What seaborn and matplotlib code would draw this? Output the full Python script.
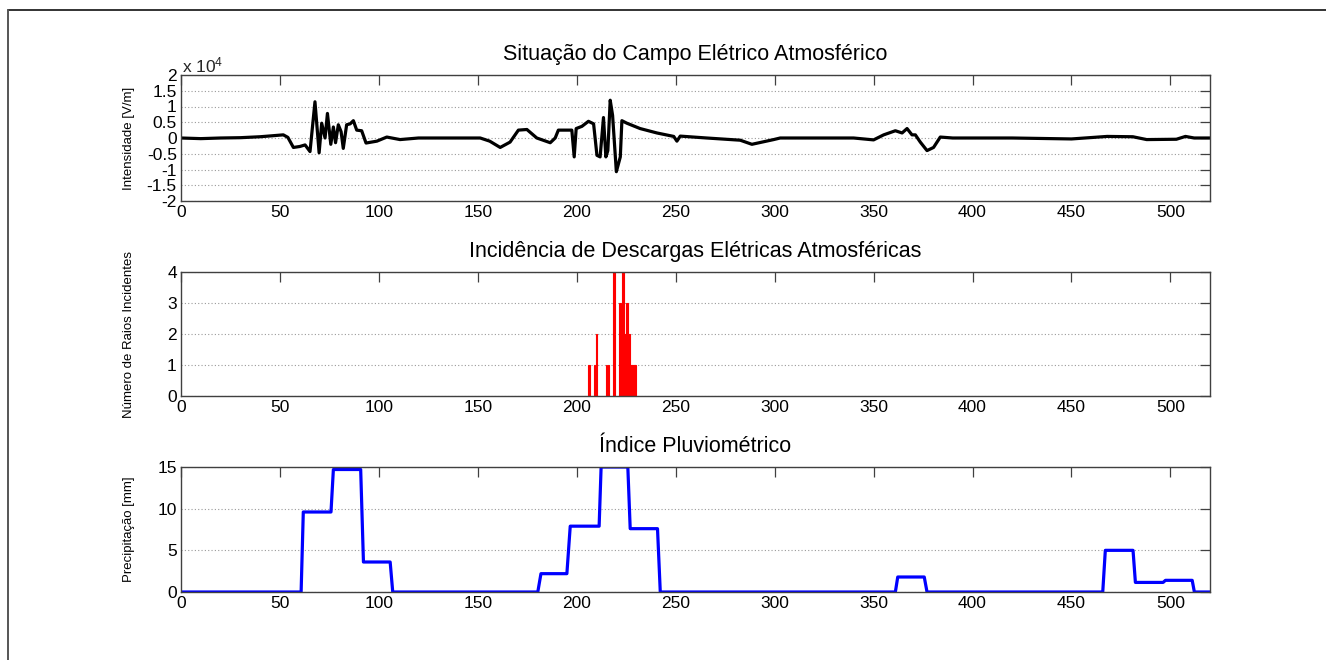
import matplotlib
matplotlib.use("Agg")
import matplotlib.pyplot as plt
from matplotlib.lines import Line2D
import seaborn as sns
import pandas as pd

# ---------------- data ----------------
# Electric field (units of 10^4 V/m), knots
field_x = [0, 10, 20, 30, 40, 46, 51.7, 54, 56.8, 60, 62.7, 65.2, 67.7, 69.8, 71.1,
           72.8, 74, 75.7, 77, 78.1, 79.5, 80.9, 82, 83.7, 85.5, 87.1, 88.8, 91.3,
           93.5, 99, 104, 110.7, 120, 130, 140, 151.2, 156, 161.3, 166.3, 170.5,
           174.8, 179.8, 186.6, 189.1, 190.7, 197.5, 198.7, 199.7, 202.6, 205.9,
           208.5, 210.2, 211.8, 213.5, 214.7, 215.7, 216.9, 218.1, 220, 222, 222.8,
           225.3, 232, 240.5, 249, 250.6, 252.3, 265.7, 282.6, 288.5, 299.5, 302.8,
           339.9, 350, 355.1, 361, 364.4, 366.9, 369.4, 371.1, 373.6, 377, 380.3,
           383.7, 390, 420, 450, 468, 481, 488, 503, 507.6, 512, 520]
field_y = [0, -0.02, 0, 0.01, 0.04, 0.07, 0.1, 0.02, -0.3, -0.27, -0.22, -0.43, 1.15,
           -0.47, 0.47, 0.0, 0.78, -0.2, 0.35, -0.15, 0.42, 0.2, -0.33, 0.42, 0.45,
           0.55, 0.25, 0.23, -0.16, -0.1, 0.03, -0.05, 0, 0, 0, 0, -0.1, -0.3, -0.13,
           0.25, 0.27, 0.0, -0.15, 0, 0.25, 0.25, -0.6, 0.3, 0.37, 0.53, 0.45, -0.55,
           -0.6, 0.65, -0.6, -0.4, 1.2, 0.72, -1.07, -0.6, 0.55, 0.47, 0.3, 0.16, 0.05,
           -0.1, 0.06, 0, -0.07, -0.2, -0.05, 0, 0, -0.06, 0.1, 0.23, 0.16, 0.3, 0.1,
           0.1, -0.13, -0.4, -0.3, 0.03, 0, 0, -0.03, 0.05, 0.04, -0.05, -0.04, 0.05,
           0, 0]

# Lightning strikes
strike_x = [206, 209, 210, 215, 216, 219, 222, 223.5, 224.5, 225.5, 226.5, 227.5, 228.5, 229.5]
strike_n = [1, 1, 2, 1, 1, 4, 3, 4, 2, 3, 2, 1, 1, 1]

# Rainfall (mm)
rain_x = [0, 60.7, 61.8, 75.8, 77, 90.8, 92.2, 105.7, 107, 180.3, 181.9, 195, 196.7,
          211.3, 212.3, 225.8, 227, 240.8, 242.2, 361, 362.2, 375.6, 377, 465.8,
          467.1, 481.1, 482.3, 496.3, 497.5, 511, 512.1, 520]
rain_y = [0, 0, 9.6, 9.6, 14.7, 14.7, 3.6, 3.6, 0, 0, 2.2, 2.2, 7.9, 7.9, 15, 15,
          7.6, 7.6, 0, 0, 1.8, 1.8, 0, 0, 5.0, 5.0, 1.15, 1.15, 1.4, 1.4, 0, 0]

titles = ["Situação do Campo Elétrico Atmosférico",
          "Incidência de Descargas Elétricas Atmosféricas",
          "Índice Pluviométrico"]
ylabels = ["Intensidade [V/m]", "Número de Raios Incidentes", "Precipitação [mm]"]
xticks = [0, 50, 100, 150, 200, 250, 300, 350, 400, 450, 500]
field_ticks = [-2, -1.5, -1, -0.5, 0, 0.5, 1, 1.5, 2]
field_ticklabels = ["-2", "-1.5", "-1", "-0.5", "0", "0.5", "1", "1.5", "2"]
strike_ticks = [0, 1, 2, 3, 4]
rain_ticks = [0, 5, 10, 15]

# ---------------- style ----------------
sns.set_theme(style="white")
plt.rcParams["font.family"] = ["Liberation Sans", "DejaVu Sans"]
plt.rcParams["axes.unicode_minus"] = False
plt.rcParams["mathtext.fontset"] = "custom"
plt.rcParams["mathtext.rm"] = "Liberation Sans"
plt.rcParams["mathtext.it"] = "Liberation Sans"

W, H = 1326, 660
fig = plt.figure(figsize=(W / 100, H / 100), dpi=100)
fig.patch.set_facecolor("white")

left = 181 / W
width = (1210 - 181) / W
boxes = [(75, 201), (272, 396), (467, 592)]
axes = []
for (t, b) in boxes:
    ax = fig.add_axes([left, 1 - b / H, width, (b - t) / H])
    axes.append(ax)

spine_c = "#404040"


def style_axis(ax, title, yl):
    ax.set_facecolor("white")
    for s in ax.spines.values():
        s.set_color(spine_c)
        s.set_linewidth(1.0)
        s.set_visible(True)
    ax.tick_params(direction="in", top=True, right=True, length=7, width=0.9,
                   color=spine_c, labelsize=12.5, pad=3, labelcolor="black")
    ax.set_xlim(0, 520)
    ax.set_xticks(xticks)
    ax.set_xticklabels([str(v) for v in xticks])
    ax.set_title(title, fontsize=15.5, pad=10.5, color="black")
    ax.set_xlabel("")
    ax.set_ylabel(yl, fontsize=9.5, color="black")
    ax.yaxis.set_label_coords(-0.045, 0.5)
    ax.yaxis.grid(True, linestyle=(0, (1, 2)), color="#9a9a9a", linewidth=0.8)
    ax.xaxis.grid(False)
    ax.set_axisbelow(True)


# Panel 1: electric field
df_field = pd.DataFrame({"x": field_x, "y": field_y})
sns.lineplot(data=df_field, x="x", y="y", ax=axes[0], color="black",
             linewidth=2.3, sort=False, estimator=None)
axes[0].set_ylim(-2, 2)
axes[0].set_yticks(field_ticks)
axes[0].set_yticklabels(field_ticklabels)
axes[0].annotate(r"x 10$^4$", xy=(0, 1), xycoords="axes fraction",
                 xytext=(1, 2), textcoords="offset points",
                 ha="left", va="baseline", fontsize=12.5)

# Panel 2: lightning
df_strike = pd.DataFrame({"x": strike_x, "n": strike_n})
sns.barplot(data=df_strike, x="x", y="n", ax=axes[1], native_scale=True,
            color="red", width=0.9, errorbar=None, saturation=1,
            edgecolor="red", linewidth=0.8)
axes[1].set_ylim(0, 4)
axes[1].set_yticks(strike_ticks)

# Panel 3: rainfall
df_rain = pd.DataFrame({"x": rain_x, "y": rain_y})
sns.lineplot(data=df_rain, x="x", y="y", ax=axes[2], color="#0000ff",
             linewidth=2.3, sort=False, estimator=None)
axes[2].set_ylim(0, 15)
axes[2].set_yticks(rain_ticks)

for ax, title, yl in zip(axes, titles, ylabels):
    style_axis(ax, title, yl)

# figure frame lines (top and left)
fig.add_artist(Line2D([8 / W, 1], [1 - 10 / H, 1 - 10 / H], transform=fig.transFigure,
                      color="#333333", linewidth=1.4))
fig.add_artist(Line2D([8 / W, 8 / W], [0, 1 - 10 / H], transform=fig.transFigure,
                      color="#555555", linewidth=1.4))

fig.savefig("out.png", dpi=100, facecolor="white")
